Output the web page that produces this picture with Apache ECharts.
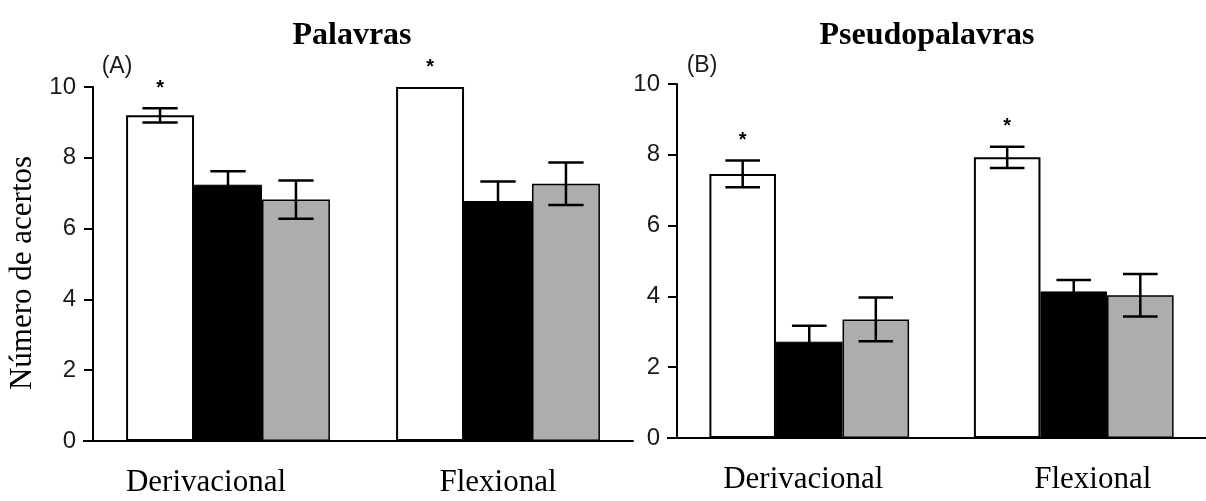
<!DOCTYPE html>
<html>
<head>
<meta charset="utf-8">
<script src="https://cdn.jsdelivr.net/npm/echarts@6/dist/echarts.min.js"></script>
<style>
html,body{margin:0;padding:0;background:#fff;}
#chart{width:1206px;height:501px;}
</style>
</head>
<body>
<div id="chart"></div>
<script>
// ---- data ----
const categories = ['Derivacional', 'Flexional'];
const yTicks = [0, 2, 4, 6, 8, 10];

// Palavras (A)
const palavrasWhite = [9.2, 10.0];
const palavrasBlack = [7.24, 6.78];
const palavrasGray = [6.82, 7.27];
const palavrasWhiteErr = [0.2, 0];
const palavrasBlackErr = [0.38, 0.55];
const palavrasGrayErr = [0.54, 0.6];
const palavrasStar = [1, 1];

// Pseudopalavras (B)
const pseudoWhite = [7.46, 7.93];
const pseudoBlack = [2.72, 4.14];
const pseudoGray = [3.35, 4.03];
const pseudoWhiteErr = [0.38, 0.3];
const pseudoBlackErr = [0.45, 0.32];
const pseudoGrayErr = [0.62, 0.6];
const pseudoStar = [1, 1];

// ---- style constants ----
const CAT_GAP = 0.245;
const SERIF = 'Liberation Serif';
const SANS = 'Liberation Sans';
const GRAY = '#adadad';
const gridA = {left: 93, top: 87, width: 540, height: 354};
const gridB = {left: 677, top: 84, width: 537, height: 354};
const labelShift = [[-22, 0], [-6, 19]];

const chart = echarts.init(document.getElementById('chart'), null, {renderer: 'canvas'});

function richFor(panel) {
  const r = {};
  labelShift[panel].forEach((s, i) => {
    r['c' + i] = {
      fontFamily: SERIF, fontSize: 31, color: '#000',
      padding: s < 0 ? [0, -2 * s, 0, 0] : [0, 0, 0, 2 * s]
    };
  });
  return r;
}

function xAxisFor(gi, panel) {
  return {
    type: 'category', gridIndex: gi, data: categories,
    axisLine: {show: true, lineStyle: {color: '#000', width: 2}},
    axisTick: {show: false},
    axisLabel: {
      margin: 26,
      formatter: (v, i) => '{c' + i + '|' + v + '}',
      rich: richFor(panel)
    },
    splitLine: {show: false}
  };
}

function yAxisFor(gi, withName) {
  const ax = {
    type: 'value', gridIndex: gi, min: 0, max: 10, interval: 2,
    axisLine: {show: true, lineStyle: {color: '#000', width: 2}},
    axisTick: {show: true, length: 9, lineStyle: {color: '#000', width: 2}},
    axisLabel: {
      margin: 17, fontFamily: SANS, fontSize: 24, color: '#1a1a1a',
      formatter: v => (yTicks.indexOf(v) >= 0 ? String(v) : '')
    },
    splitLine: {show: false}
  };
  if (withName) {
    Object.assign(ax, {
      name: 'Número de acertos', nameLocation: 'middle', nameGap: 55,
      nameRotate: 90,
      nameTextStyle: {fontFamily: SERIF, fontSize: 31, color: '#000', padding: [0, 18, 0, 0]}
    });
  }
  return ax;
}

function barSeries(gi, name, values, color, bw) {
  return {
    type: 'bar', name: name, xAxisIndex: gi, yAxisIndex: gi,
    data: values, barGap: '0%', barCategoryGap: (CAT_GAP * 100) + '%',
    itemStyle: {color: color, borderColor: '#000', borderWidth: bw},
    emphasis: {disabled: true}, silent: true, z: 2
  };
}

function errData(white, black, gray, we, be, ge, star) {
  const d = [];
  [[white, we], [black, be], [gray, ge]].forEach((p, k) => {
    p[0].forEach((v, c) => {
      d.push([c, v, p[1][c], k === 0 ? star[c] : 0, k]);
    });
  });
  return d;
}

function errSeries(gi, data) {
  return {
    type: 'custom', xAxisIndex: gi, yAxisIndex: gi, z: 5, silent: true,
    data: data,
    encode: {x: 0, y: 1},
    renderItem: function (params, api) {
      const cat = api.value(0), v = api.value(1), e = api.value(2);
      const s = api.value(3), k = api.value(4);
      const band = api.size([1, 0])[0];
      const bw = band * (1 - CAT_GAP) / 3;
      const base = api.coord([cat, v]);
      const x = base[0] + (k - 1) * bw;
      const children = [];
      let topY = base[1];
      if (e > 0) {
        const t = api.coord([cat, v + e])[1];
        const b = api.coord([cat, v - e])[1];
        const hw = bw * 0.26;
        const ls = {stroke: '#000', lineWidth: 2.5};
        children.push({type: 'line', shape: {x1: x, y1: t, x2: x, y2: b}, style: ls});
        children.push({type: 'line', shape: {x1: x - hw, y1: t, x2: x + hw, y2: t}, style: ls});
        children.push({type: 'line', shape: {x1: x - hw, y1: b, x2: x + hw, y2: b}, style: ls});
        topY = t;
      }
      if (s) {
        children.push({
          type: 'text',
          style: {
            text: '*', x: x, y: topY - 20, fill: '#000',
            font: 'bold 20px ' + SANS, textAlign: 'center', textVerticalAlign: 'middle'
          }
        });
      }
      return {type: 'group', children: children};
    }
  };
}

const option = {
  backgroundColor: '#fff',
  animation: false,
  grid: [
    Object.assign({containLabel: false}, gridA),
    Object.assign({containLabel: false}, gridB)
  ],
  xAxis: [xAxisFor(0, 0), xAxisFor(1, 1)],
  yAxis: [yAxisFor(0, true), yAxisFor(1, false)],
  series: [
    barSeries(0, 'Grupo 1', palavrasWhite, '#fff', 2),
    barSeries(0, 'Grupo 2', palavrasBlack, '#000', 1),
    barSeries(0, 'Grupo 3', palavrasGray, GRAY, 1.5),
    barSeries(1, 'Grupo 1', pseudoWhite, '#fff', 2),
    barSeries(1, 'Grupo 2', pseudoBlack, '#000', 1),
    barSeries(1, 'Grupo 3', pseudoGray, GRAY, 1.5),
    errSeries(0, errData(palavrasWhite, palavrasBlack, palavrasGray,
      palavrasWhiteErr, palavrasBlackErr, palavrasGrayErr, palavrasStar)),
    errSeries(1, errData(pseudoWhite, pseudoBlack, pseudoGray,
      pseudoWhiteErr, pseudoBlackErr, pseudoGrayErr, pseudoStar))
  ]
};
chart.setOption(option);

// extra decoration: titles, panel letters, axis stubs
const y0A = chart.convertToPixel({yAxisIndex: 0}, 0);
const y0B = chart.convertToPixel({yAxisIndex: 1}, 0);
chart.setOption({
  graphic: [
    {type: 'text', x: 352, y: 36, style: {text: 'Palavras', font: 'bold 32px ' + SERIF, fill: '#000', textAlign: 'center', textVerticalAlign: 'middle'}},
    {type: 'text', x: 927, y: 36, style: {text: 'Pseudopalavras', font: 'bold 32px ' + SERIF, fill: '#000', textAlign: 'center', textVerticalAlign: 'middle'}},
    {type: 'text', x: 117, y: 67, style: {text: '(A)', font: '23px ' + SANS, fill: '#1a1a1a', textAlign: 'center', textVerticalAlign: 'middle'}},
    {type: 'text', x: 702, y: 66, style: {text: '(B)', font: '23px ' + SANS, fill: '#1a1a1a', textAlign: 'center', textVerticalAlign: 'middle'}},
    {type: 'line', shape: {x1: gridA.left - 10, y1: y0A, x2: gridA.left, y2: y0A}, style: {stroke: '#000', lineWidth: 2}},
    {type: 'line', shape: {x1: gridB.left - 10, y1: y0B, x2: gridB.left, y2: y0B}, style: {stroke: '#000', lineWidth: 2}}
  ]
});
</script>
</body>
</html>
